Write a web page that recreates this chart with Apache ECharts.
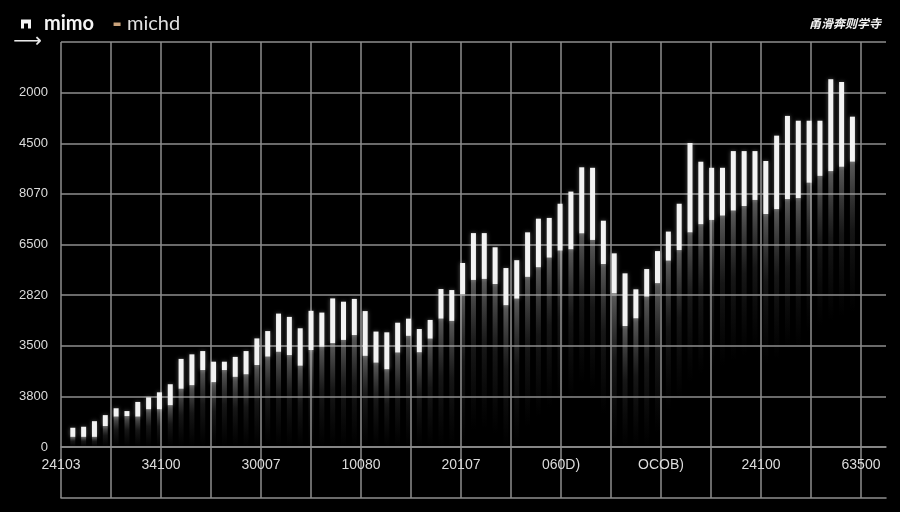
<!DOCTYPE html>
<html>
<head>
<meta charset="utf-8">
<script src="https://cdn.jsdelivr.net/npm/echarts@6/dist/echarts.min.js"></script>
<style>
html,body{margin:0;padding:0;background:#000;}
#chart{width:900px;height:512px;}
</style>
</head>
<body>
<div id="chart"></div>
<script>
// ---- data ----
const titleText = '甬滑奔则学寺';
const seriesNames = ['mimo', 'michd'];
const xTickLabels = ['24103', '34100', '30007', '10080', '20107', '060D)', 'OCOB)', '24100', '63500'];
const yTickLabels = ['0', '3800', '3500', '2820', '6500', '8070', '4500', '2000', '→']; // 0 .. 8000
const lows = [200,200,200,415,600,610,600,745,745,825,
  1150,1220,1520,1280,1520,1385,1435,1620,1785,1880,
  1815,1605,1915,1980,2050,2115,2210,1800,1665,1535,
  1865,2195,1870,2140,2535,2490,3020,3300,3320,3220,
  2800,2930,3360,3550,3740,3880,3905,4220,4090,3615,
  3035,2390,2540,2970,3235,3680,3890,4240,4400,4485,
  4570,4670,4760,4880,4600,4700,4895,4915,5220,5355,
  5450,5535,5635];
const highs = [380,400,510,630,765,710,890,980,1080,1240,
  1740,1830,1895,1685,1685,1780,1895,2145,2290,2635,
  2570,2345,2690,2655,2935,2870,2925,2685,2280,2265,
  2455,2535,2330,2510,3120,3100,3635,4225,4225,3945,
  3535,3690,4240,4510,4525,4805,5045,5525,5515,4470,
  3825,3430,3115,3515,3870,4255,4805,6005,5635,5515,
  5515,5845,5845,5845,5650,6150,6540,6445,6445,6445,
  7265,7210,6525];

// ---- build ----
const gridCats = [];
for (let i = 0; i < 34; i++) gridCats.push(i % 4 === 0 && i / 4 < xTickLabels.length ? xTickLabels[i / 4] : '');
const rangeData = lows.map((v, i) => [i, v, highs[i]]);

const lineColor = '#8e8e8e';
const BAR_W = 5;
const GLOW_LEN = 150;

function renderRange(params, api) {
  const x = api.value(0), lo = api.value(1), hi = api.value(2);
  const pLo = api.coord([x, lo]);
  const pHi = api.coord([x, hi]);
  return {
    type: 'rect',
    shape: {x: pHi[0] - BAR_W / 2, y: pHi[1], width: BAR_W, height: pLo[1] - pHi[1]},
    style: {fill: '#f3f3f3', shadowBlur: 4, shadowColor: 'rgba(255,255,255,0.35)'}
  };
}
function renderGlow(params, api) {
  const x = api.value(0), lo = api.value(1);
  const pLo = api.coord([x, lo]);
  const p0 = api.coord([x, 0]);
  const h = Math.min(GLOW_LEN, p0[1] - pLo[1]);
  return {
    type: 'rect',
    shape: {x: pLo[0] - BAR_W / 2, y: pLo[1], width: BAR_W, height: h},
    style: {
      fill: new echarts.graphic.LinearGradient(0, 0, 0, 1, [
        {offset: 0, color: 'rgba(190,190,190,0.48)'},
        {offset: 0.45, color: 'rgba(150,150,150,0.15)'},
        {offset: 1, color: 'rgba(120,120,120,0)'}
      ])
    }
  };
}

const chart = echarts.init(document.getElementById('chart'), null, {renderer: 'canvas'});
chart.setOption({
  backgroundColor: '#000',
  animation: false,
  title: {
    text: titleText, right: 14, top: 12,
    textStyle: {color: '#f2f2f2', fontSize: 12, fontWeight: 'bold', fontStyle: 'italic', fontFamily: 'Noto Sans CJK SC'}
  },
  legend: {
    left: 16, top: 9, itemWidth: 10, itemHeight: 9, itemGap: 18,
    textStyle: {color: '#e6e6e6', fontSize: 20, fontFamily: 'Lato'},
    data: [
      {name: seriesNames[0], icon: 'path://M0,0 h10 v9 h-3 v-5 h-4 v5 h-3 z',
        itemStyle: {color: '#f4f4f4'}, textStyle: {fontWeight: 'bold', color: '#f4f4f4', padding: [0, 0, 0, 8]}},
      {name: seriesNames[1], icon: 'path://M0,0 M10,9 M1.5,3 h7 v3.5 h-7 z',
        itemStyle: {color: '#c9a27a'}, textStyle: {fontWeight: 'normal', color: '#e0e0e0'}}
    ]
  },
  grid: [
    {left: 61, right: 14, top: 42, bottom: 65, containLabel: false, outerBoundsMode: 'none'},
    {left: 61, right: 14, top: 447, bottom: 14, containLabel: false, outerBoundsMode: 'none'}
  ],
  xAxis: [
    {
      gridIndex: 0, type: 'category', data: gridCats, boundaryGap: false,
      axisLine: {onZero: false, lineStyle: {color: lineColor, width: 1.5}},
      axisTick: {show: false},
      axisLabel: {interval: 0, color: '#dcdcdc', fontSize: 14, margin: 11, fontFamily: 'Liberation Sans'},
      splitLine: {show: true, interval: (idx) => idx % 2 === 0 && idx <= 32, lineStyle: {color: lineColor, width: 1.5}}
    },
    {
      gridIndex: 0, type: 'value', min: -1.09, max: 75.1, show: false, splitLine: {show: false}
    },
    {
      gridIndex: 1, type: 'category', data: gridCats, boundaryGap: false,
      axisLine: {onZero: false, lineStyle: {color: lineColor, width: 1.5}},
      axisTick: {show: false}, axisLabel: {show: false},
      splitLine: {show: true, interval: (idx) => idx % 2 === 0 && idx <= 32, lineStyle: {color: lineColor, width: 1.5}}
    }
  ],
  yAxis: [
    {
      gridIndex: 0, type: 'value', min: 0, max: 8000, interval: 1000,
      axisLine: {show: false}, axisTick: {show: false},
      axisLabel: {
        color: '#dcdcdc', fontSize: 13, margin: 13, fontFamily: 'Liberation Sans',
        formatter: (v) => {
          const t = yTickLabels[Math.round(v / 1000)] || '';
          return t === '→' ? '{arr|⟶}' : t;
        },
        rich: {arr: {fontSize: 20, color: '#e8e8e8', fontFamily: 'DejaVu Sans', padding: [0, 6, 0, 0]}}
      },
      splitLine: {lineStyle: {color: lineColor, width: 1.5}}
    },
    {
      gridIndex: 1, type: 'value', min: 0, max: 1, show: false, splitLine: {show: false}
    }
  ],
  series: [
    {
      name: seriesNames[1], type: 'custom', xAxisIndex: 1, yAxisIndex: 0,
      data: rangeData, encode: {x: 0, y: [1, 2]}, renderItem: renderGlow, z: 2, clip: true
    },
    {
      name: seriesNames[0], type: 'custom', xAxisIndex: 1, yAxisIndex: 0,
      data: rangeData, encode: {x: 0, y: [1, 2]}, renderItem: renderRange, z: 3, clip: true
    }
  ]
});
</script>
</body>
</html>
